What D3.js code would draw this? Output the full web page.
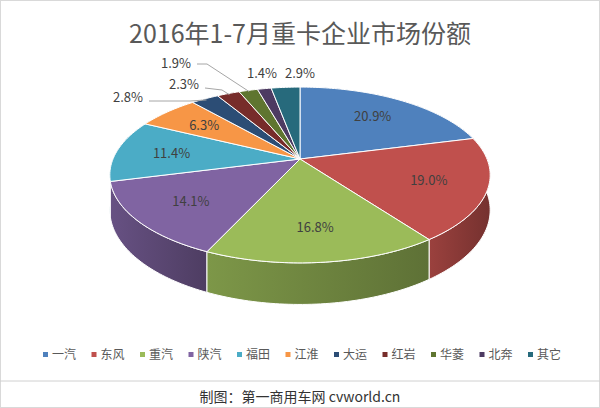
<!DOCTYPE html><html><head><meta charset="utf-8"><script src="https://d3js.org/d3.v7.min.js"></script>
<style>body{margin:0;background:#fff}text{font-family:"Noto Sans CJK SC","Liberation Sans",sans-serif}</style></head><body><svg id="c" width="600" height="408"></svg>
<script>
const categories=["一汽","东风","重汽","陕汽","福田","江淮","大运","红岩","华菱","北奔","其它"];
const values=[20.9,19.0,16.8,14.1,11.4,6.3,2.8,2.3,1.9,1.4,2.9];
const colors=["#4F81BD","#C0504D","#9BBB59","#8064A2","#4BACC6","#F79646","#2C4D75","#772C2A","#5F7530","#4D3B62","#276A7C"];
const title="2016年1-7月重卡企业市场份额";
const footer="制图：第一商用车网  cvworld.cn";
const outside=[null,null,null,null,null,null,[113,97,190,101],[169,84,222,90],[161,63,null,null],[247,73,null,null],[285,73,null,null]];

const svg=d3.select("#c");
svg.append("rect").attr("x",0.5).attr("y",0.5).attr("width",599).attr("height",407).attr("fill","#fff").attr("stroke","#d9d9d9");
svg.append("text").attr("x",300).attr("y",43).attr("text-anchor","middle").attr("font-size",25).attr("fill","#595959").text(title);

const cx=300,cy=159,R=187,B=85,k=0.1818,H=34;
function P(th,r,dz){const u=r*Math.sin(th),v=-r*Math.cos(th),s=1/(1-k*v);return [cx+R*u*s,cy+B*v*s+(dz||0)*s];}
const pie=d3.pie().sort(null).value(d=>d).startAngle(0).endAngle(2*Math.PI);
const arcs=pie(values);
const defs=svg.append("defs");
const g=svg.append("g");
function arcPts(a,b,dz){const n=Math.max(2,Math.ceil((b-a)/0.02));return d3.range(n+1).map(i=>P(a+(b-a)*i/n,1,dz));}
const order=arcs.map((d,i)=>i).sort((i,j)=>(-Math.cos((arcs[i].startAngle+arcs[i].endAngle)/2))-(-Math.cos((arcs[j].startAngle+arcs[j].endAngle)/2)));
order.forEach(i=>{const d=arcs[i];
  const gid="gr"+i;const lg=defs.append("linearGradient").attr("id",gid);
  const c=d3.color(colors[i]);
  lg.append("stop").attr("offset","0%").attr("stop-color",c.darker(0.6));
  lg.append("stop").attr("offset","100%").attr("stop-color",c.darker(1.4));
  const top=arcPts(d.startAngle,d.endAngle,0),bot=arcPts(d.startAngle,d.endAngle,H).reverse();
  g.append("path").attr("d",d3.line()(top.concat(bot))+"Z").attr("fill",`url(#${gid})`).attr("stroke","#fff").attr("stroke-width",1);
});
arcs.forEach((d,i)=>{
  const pts=[P(0,0)].concat(arcPts(d.startAngle,d.endAngle,0));
  g.append("path").attr("d",d3.line()(pts)+"Z").attr("fill",colors[i]).attr("stroke","#fff").attr("stroke-width",1);
});
arcs.forEach((d,i)=>{
  const m=(d.startAngle+d.endAngle)/2;const lab=values[i].toFixed(1)+"%";
  if(!outside[i]){const p=P(m,0.7);
    svg.append("text").attr("x",p[0]).attr("y",p[1]+5).attr("text-anchor","middle").attr("font-size",13).attr("fill","#404040").text(lab);}
  else{const o=outside[i];const e=P(m,0.98);
    if(o[2]!==null){svg.append("polyline").attr("points",[[o[0]+36,o[1]+4],[o[2],o[3]],e].join(" ")).attr("fill","none").attr("stroke","#a6a6a6");}
    else if(i===8){svg.append("polyline").attr("points",[[o[0]+36,o[1]+1],[o[0]+46,o[1]+1],e].join(" ")).attr("fill","none").attr("stroke","#a6a6a6");}
    svg.append("text").attr("x",o[0]).attr("y",o[1]+5).attr("font-size",13).attr("fill","#404040").text(lab);}
});
const lgd=svg.append("g");let x=43;
categories.forEach((c,i)=>{lgd.append("rect").attr("x",x).attr("y",352).attr("width",5).attr("height",5).attr("fill",colors[i]);
  lgd.append("text").attr("x",x+9).attr("y",359).attr("font-size",12).attr("fill","#595959").text(c);x+=48.5;});
svg.append("line").attr("x1",0).attr("x2",600).attr("y1",381).attr("y2",381).attr("stroke","#d0d0d0");
svg.append("text").attr("x",300).attr("y",402).attr("text-anchor","middle").attr("font-size",14).attr("fill","#333").text(footer);
</script></body></html>
